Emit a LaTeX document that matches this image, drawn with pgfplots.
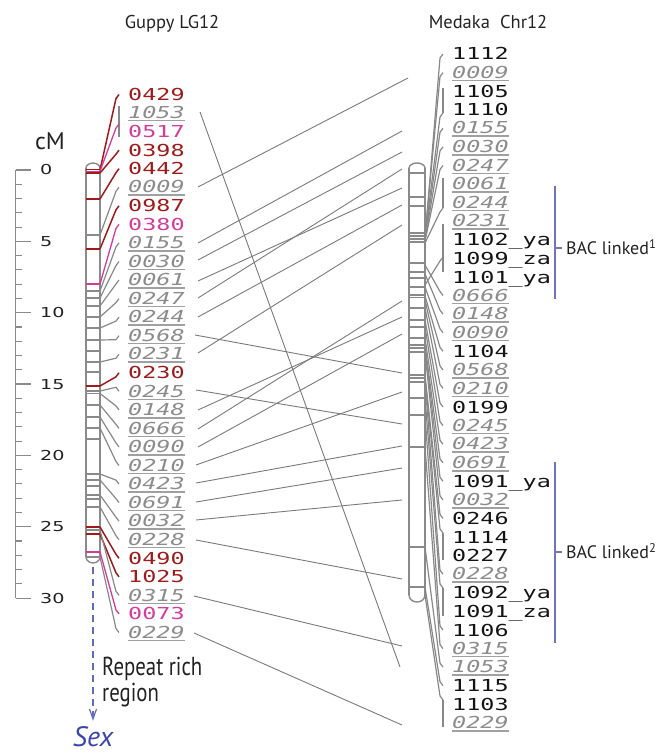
\documentclass[border=0pt]{standalone}
\usepackage{fontspec}
\setmainfont{PT Sans}
\newfontfamily\labf[FakeStretch=1.42]{DejaVu Sans Mono}
\newfontfamily\numf[FakeStretch=1.4]{DejaVu Sans}
\newfontfamily\condf[FakeStretch=0.8]{PT Sans}
\usepackage{pgfplots}
\pgfplotsset{compat=1.18}
\definecolor{lk}{HTML}{7A7A7A}
\definecolor{cg}{HTML}{888888}
\definecolor{chrc}{HTML}{8A8A8A}
\definecolor{dred}{HTML}{9E1B1B}
\definecolor{mag}{HTML}{D23C9B}
\definecolor{gtext}{HTML}{8C8C8C}
\definecolor{ulc}{HTML}{A0A0A0}
\definecolor{bacblue}{HTML}{7272C2}
\definecolor{sexblue}{HTML}{3A46A8}
\definecolor{txt}{HTML}{222222}

\tikzset{
  lab/.style={anchor=base west, inner sep=0pt, font=\labf\fontsize{16.5bp}{18bp}\selectfont},
  lnkline/.style={color=lk, line width=0.9bp},
  cgry/.style={color=cg, line width=1.2bp},
  cred/.style={color=dred, line width=1.5bp},
  cmag/.style={color=mag, line width=1.3bp},
  chr/.style={color=chrc, line width=1.4bp},
  bnd/.style={color=chrc, line width=1.1bp},
  rnum/.style={anchor=base west, inner sep=0pt, font=\numf\fontsize{13.7bp}{15bp}\selectfont, text=txt},
}

\newcommand{\gl}[1]{\setbox0\hbox{\color{gtext}\itshape#1}\rlap{\raisebox{-3bp}{\color{ulc}\rule{\wd0}{1.5bp}}}\box0}
\newcommand{\rl}[1]{\textcolor{dred}{#1}}
\newcommand{\ml}[1]{\textcolor{mag}{#1}}
\newcommand{\kl}[1]{\textcolor{black!92}{#1}}

% connector from left chromosome band (#2) to label (#3)
\newcommand{\lcon}[3]{%
  \pgfmathsetmacro\ya{#3+4*sign(#2-#3)}%
  \addplot[#1] coordinates {(100,#2) (116,\ya) (119,#3)};}
% connector from right chromosome band (#1) to label (#2)
\newcommand{\rcon}[2]{%
  \pgfmathsetmacro\ya{#2+4*sign(#1-#2)}%
  \addplot[cgry] coordinates {(425,#1) (440,\ya) (443,#2)};}
\newcommand{\lnk}[4]{\addplot[lnkline] coordinates {(#1,#2) (#3,#4)};}
\newcommand{\band}[4]{\addplot[#1] coordinates {(#2,#4) (#3,#4)};}

\begin{document}
\begin{tikzpicture}
\begin{axis}[
  width=652bp, height=753bp, scale only axis,
  xmin=0, xmax=652, ymin=0, ymax=753, y dir=reverse,
  hide axis, clip=false,
]
\addplot[draw=none] coordinates {(0,0) (652,753)};

% titles
\node[anchor=base, font=\fontsize{18.5bp}{20bp}\selectfont, text=txt] at (172,29) {Guppy LG12};
\node[anchor=base, font=\fontsize{18.5bp}{20bp}\selectfont, text=txt] at (488,29) {Medaka\hspace{0.55em}Chr12};

% cM ruler
\node[anchor=base, font=\fontsize{24bp}{26bp}\selectfont, text=txt] at (50,150) {cM};
\addplot[chr, line width=1.2bp] coordinates {(15.5,170) (15.5,598.1)};
\addplot[chr, line width=1.2bp, unbounded coords=jump] coordinates {
 (15.5,170) (31,170) (nan,nan) (15.5,241.35) (31,241.35) (nan,nan)
 (15.5,312.7) (31,312.7) (nan,nan) (15.5,384.05) (31,384.05) (nan,nan)
 (15.5,455.4) (31,455.4) (nan,nan) (15.5,526.75) (31,526.75) (nan,nan)
 (15.5,598.1) (31,598.1)};
\addplot[chr, line width=1.1bp, unbounded coords=jump] coordinates {
 (15.5,184.27) (22,184.27) (nan,nan) (15.5,198.54) (22,198.54) (nan,nan)
 (15.5,212.81) (22,212.81) (nan,nan) (15.5,227.08) (22,227.08) (nan,nan)
 (15.5,255.62) (22,255.62) (nan,nan) (15.5,269.89) (22,269.89) (nan,nan)
 (15.5,284.16) (22,284.16) (nan,nan) (15.5,298.43) (22,298.43) (nan,nan)
 (15.5,326.97) (22,326.97) (nan,nan) (15.5,341.24) (22,341.24) (nan,nan)
 (15.5,355.51) (22,355.51) (nan,nan) (15.5,369.78) (22,369.78) (nan,nan)
 (15.5,398.32) (22,398.32) (nan,nan) (15.5,412.59) (22,412.59) (nan,nan)
 (15.5,426.86) (22,426.86) (nan,nan) (15.5,441.13) (22,441.13) (nan,nan)
 (15.5,469.67) (22,469.67) (nan,nan) (15.5,483.94) (22,483.94) (nan,nan)
 (15.5,498.21) (22,498.21) (nan,nan) (15.5,512.48) (22,512.48) (nan,nan)
 (15.5,541.02) (22,541.02) (nan,nan) (15.5,555.29) (22,555.29) (nan,nan)
 (15.5,569.56) (22,569.56) (nan,nan) (15.5,583.83) (22,583.83)};
\node[rnum] at (40,175) {0};
\node[rnum] at (40,246.35) {5};
\node[rnum] at (40,317.7) {10};
\node[rnum] at (40,389.05) {15};
\node[rnum] at (40,460.4) {20};
\node[rnum] at (40,531.75) {25};
\node[rnum] at (40,603.1) {30};

% left chromosome outline
\addplot[chr, smooth] coordinates {(86,168) (86.94,165.5) (89.5,163.67) (93,163) (96.5,163.67) (99.06,165.5) (100,168)};
\addplot[chr, smooth] coordinates {(86,557) (86.94,560) (89.5,562.2) (93,563) (96.5,562.2) (99.06,560) (100,557)};
\addplot[chr] coordinates {(86,168) (86,557)};
\addplot[chr] coordinates {(100,168) (100,557)};
% left bands
\band{bnd}{86}{100}{235} \band{bnd}{86}{100}{291} \band{bnd}{86}{100}{298}
\band{bnd}{86}{100}{306} \band{bnd}{86}{100}{317} \band{bnd}{86}{100}{328}
\band{bnd}{86}{100}{340} \band{bnd}{86}{100}{351} \band{bnd}{86}{100}{362}
\band{bnd}{86}{100}{372} \band{bnd}{86}{100}{391} \band{bnd}{86}{100}{393.5}
\band{bnd}{86}{100}{405} \band{bnd}{86}{100}{417} \band{bnd}{86}{100}{428}
\band{bnd}{86}{100}{439} \band{bnd}{86}{100}{474} \band{bnd}{86}{100}{480}
\band{bnd}{86}{100}{486} \band{bnd}{86}{100}{495} \band{bnd}{86}{100}{499}
\band{bnd}{86}{100}{507} \band{bnd}{86}{100}{530} \band{bnd}{86}{100}{557}
\band{cred}{86}{100}{169.5} \band{cmag}{86}{100}{171.3} \band{cred}{86}{100}{173}
\band{cred}{86}{100}{199} \band{cred}{86}{100}{249} \band{cmag}{86}{100}{284}
\band{cred}{86}{100}{386} \band{cred}{86}{100}{527} \band{cred}{86}{100}{534}
\band{cmag}{86}{100}{552}

% left connectors
\addplot[cgry] coordinates {(119,106) (119,137)};
\lcon{cred}{170}{94.5}
\lcon{cmag}{171.3}{124}
\lcon{cred}{173}{150.2}
\lcon{cred}{199}{168.7}
\lcon{cgry}{235}{187.3}
\lcon{cred}{249}{205.8}
\lcon{cmag}{284}{224.4}
\lcon{cgry}{291}{242.9}
\lcon{cgry}{298}{261.5}
\lcon{cgry}{306}{280}
\lcon{cgry}{317}{298.6}
\lcon{cgry}{328}{317.1}
\lcon{cgry}{340}{335.7}
\lcon{cgry}{362}{354.2}
\lcon{cred}{386}{372.8}
\lcon{cgry}{391}{391.3}
\lcon{cgry}{393.5}{409.9}
\lcon{cgry}{405}{428.4}
\lcon{cgry}{417}{447}
\lcon{cgry}{428}{465.5}
\lcon{cgry}{474}{484.1}
\lcon{cgry}{480}{502.6}
\lcon{cgry}{495}{521.2}
\lcon{cgry}{507}{539.7}
\lcon{cred}{527}{558.3}
\lcon{cred}{534}{576.8}
\lcon{cgry}{530}{595.4}
\lcon{cmag}{552}{613.9}
\lcon{cgry}{557}{632.5}

% left labels
\node[lab] at (128,100.5) {\rl{0429}};
\node[lab] at (128,118.5) {\gl{1053}};
\node[lab] at (128,137.6) {\ml{0517}};
\node[lab] at (128,156.2) {\rl{0398}};
\node[lab] at (128,174.7) {\rl{0442}};
\node[lab] at (128,193) {\gl{0009}};
\node[lab] at (128,211.8) {\rl{0987}};
\node[lab] at (128,230.4) {\ml{0380}};
\node[lab] at (128,248.6) {\gl{0155}};
\node[lab] at (128,267.2) {\gl{0030}};
\node[lab] at (128,285.7) {\gl{0061}};
\node[lab] at (128,304.3) {\gl{0247}};
\node[lab] at (128,322.8) {\gl{0244}};
\node[lab] at (128,341.4) {\gl{0568}};
\node[lab] at (128,359.9) {\gl{0231}};
\node[lab] at (128,378.8) {\rl{0230}};
\node[lab] at (128,397) {\gl{0245}};
\node[lab] at (128,415.6) {\gl{0148}};
\node[lab] at (128,434.1) {\gl{0666}};
\node[lab] at (128,452.7) {\gl{0090}};
\node[lab] at (128,471.2) {\gl{0210}};
\node[lab] at (128,489.8) {\gl{0423}};
\node[lab] at (128,508.3) {\gl{0691}};
\node[lab] at (128,526.9) {\gl{0032}};
\node[lab] at (128,545.4) {\gl{0228}};
\node[lab] at (128,564.3) {\rl{0490}};
\node[lab] at (128,582.8) {\rl{1025}};
\node[lab] at (128,601.1) {\gl{0315}};
\node[lab] at (128,619.9) {\ml{0073}};
\node[lab] at (128,638.2) {\gl{0229}};

% repeat rich region and sex
\addplot[color=sexblue!80, line width=1.2bp, dash pattern=on 7bp off 5bp] coordinates {(93,567) (93,716)};
\addplot[color=sexblue!80, line width=1.2bp] coordinates {(89.5,709) (93,719) (96.5,709)};
\node[anchor=base west, inner sep=0pt, font=\condf\fontsize{26bp}{28bp}\selectfont, text=txt] at (102,675) {Repeat rich};
\node[anchor=base west, inner sep=0pt, font=\condf\fontsize{26bp}{28bp}\selectfont, text=txt] at (102,701) {region};
\node[anchor=base, inner sep=0pt, font=\itshape\fontsize{28bp}{30bp}\selectfont, text=sexblue] at (93,746) {Sex};

% homology links
\lnk{200}{112}{400}{667}
\lnk{198}{187}{408}{78}
\lnk{198}{243}{402}{131}
\lnk{198}{260}{402}{152}
\lnk{198}{281}{402}{188}
\lnk{198}{298}{402}{169}
\lnk{198}{317}{402}{205}
\lnk{195}{335}{402}{373}
\lnk{198}{353}{402}{225}
\lnk{196}{390}{402}{424}
\lnk{198}{410}{402}{317}
\lnk{198}{429}{402}{301}
\lnk{198}{447}{402}{334}
\lnk{196}{465}{402}{392}
\lnk{196}{483}{402}{446}
\lnk{196}{502}{402}{468}
\lnk{196}{520}{402}{500}
\lnk{196}{540}{402}{579}
\lnk{194}{596}{402}{646}
\lnk{194}{633}{402}{725}

% right chromosome outline
\addplot[chr, smooth] coordinates {(409,168) (410.07,165.5) (413,163.67) (417,163) (421,163.67) (423.93,165.5) (425,168)};
\addplot[chr, smooth] coordinates {(409,595) (410.07,598.5) (413,601.06) (417,602) (421,601.06) (423.93,598.5) (425,595)};
\addplot[chr] coordinates {(409,168) (409,595)};
\addplot[chr] coordinates {(425,168) (425,595)};
% right bands
\band{bnd}{409}{425}{173} \band{bnd}{409}{425}{197} \band{bnd}{409}{425}{206}
\band{bnd}{409}{425}{233} \band{bnd}{409}{425}{236} \band{bnd}{409}{425}{239}
\band{bnd}{409}{425}{242} \band{bnd}{409}{425}{263} \band{bnd}{409}{425}{272}
\band{bnd}{409}{425}{278} \band{bnd}{409}{425}{287} \band{bnd}{409}{425}{295}
\band{bnd}{409}{425}{297.5} \band{bnd}{409}{425}{308} \band{bnd}{409}{425}{320}
\band{bnd}{409}{425}{327} \band{bnd}{409}{425}{338} \band{bnd}{409}{425}{345}
\band{bnd}{409}{425}{348} \band{bnd}{409}{425}{352} \band{bnd}{409}{425}{375}
\band{bnd}{409}{425}{378} \band{bnd}{409}{425}{382} \band{bnd}{409}{425}{398}
\band{bnd}{409}{425}{415} \band{bnd}{409}{425}{447} \band{bnd}{409}{425}{547}
\band{bnd}{409}{425}{587}

% right connectors
\rcon{238}{54}
\rcon{236}{72.6}
\addplot[cgry] coordinates {(443,88) (443,113)};
\rcon{236}{113}
\rcon{239}{128.3}
\rcon{240}{146.9}
\rcon{241}{165.5}
\addplot[cgry] coordinates {(443,178) (443,208)};
\rcon{243}{208}
\addplot[cgry] coordinates {(443,224) (443,272)};
\rcon{285}{257}
\rcon{265}{295.5}
\rcon{274}{314.1}
\rcon{287}{332.7}
\rcon{296}{351.3}
\rcon{300}{369.9}
\rcon{308}{388.4}
\rcon{320}{407}
\rcon{327}{425.6}
\rcon{338}{444.2}
\rcon{345}{462.8}
\rcon{348}{481.3}
\rcon{352}{499.9}
\rcon{375}{518.5}
\addplot[cgry] coordinates {(443,533) (443,560)};
\rcon{378}{533}
\rcon{382}{574.2}
\addplot[cgry] coordinates {(443,588) (443,616)};
\rcon{398}{588}
\rcon{415}{630}
\rcon{447}{648.6}
\rcon{547}{667.1}
\rcon{587}{685.7}
\addplot[cgry] coordinates {(443,700) (443,727)};
\rcon{595}{700}

% right labels
\node[lab] at (452,60) {\kl{1112}};
\node[lab] at (452,78.3) {\gl{0009}};
\node[lab] at (452,97.2) {\kl{1105}};
\node[lab] at (452,115.7) {\kl{1110}};
\node[lab] at (452,134) {\gl{0155}};
\node[lab] at (452,152.6) {\gl{0030}};
\node[lab] at (452,171.2) {\gl{0247}};
\node[lab] at (452,189.8) {\gl{0061}};
\node[lab] at (452,208.3) {\gl{0244}};
\node[lab] at (452,226.9) {\gl{0231}};
\node[lab] at (452,245.8) {\kl{1102\_ya}};
\node[lab] at (452,264.4) {\kl{1099\_za}};
\node[lab] at (452,283) {\kl{1101\_ya}};
\node[lab] at (452,301.2) {\gl{0666}};
\node[lab] at (452,319.8) {\gl{0148}};
\node[lab] at (452,338.4) {\gl{0090}};
\node[lab] at (452,357.3) {\kl{1104}};
\node[lab] at (452,375.6) {\gl{0568}};
\node[lab] at (452,394.1) {\gl{0210}};
\node[lab] at (452,413) {\kl{0199}};
\node[lab] at (452,431.3) {\gl{0245}};
\node[lab] at (452,449.9) {\gl{0423}};
\node[lab] at (452,468.5) {\gl{0691}};
\node[lab] at (452,487.3) {\kl{1091\_ya}};
\node[lab] at (452,505.6) {\gl{0032}};
\node[lab] at (452,524.5) {\kl{0246}};
\node[lab] at (452,543.1) {\kl{1114}};
\node[lab] at (452,561.7) {\kl{0227}};
\node[lab] at (452,579.9) {\gl{0228}};
\node[lab] at (452,598.8) {\kl{1092\_ya}};
\node[lab] at (452,617.4) {\kl{1091\_za}};
\node[lab] at (452,636) {\kl{1106}};
\node[lab] at (452,654.3) {\gl{0315}};
\node[lab] at (452,672.8) {\gl{1053}};
\node[lab] at (452,691.7) {\kl{1115}};
\node[lab] at (452,710.3) {\kl{1103}};
\node[lab] at (452,728.6) {\gl{0229}};

% BAC brackets
\addplot[color=bacblue, line width=1.1bp] coordinates {(555,186) (555,299)};
\addplot[color=bacblue, line width=1.1bp] coordinates {(555,248) (562,248)};
\addplot[color=bacblue, line width=1.1bp] coordinates {(555,462) (555,643)};
\addplot[color=bacblue, line width=1.1bp] coordinates {(555,552) (562,552)};
\node[anchor=base west, inner sep=0pt, font=\fontsize{18bp}{20bp}\selectfont, text=txt] at (566,254.5) {BAC linked\textsuperscript{1}};
\node[anchor=base west, inner sep=0pt, font=\fontsize{18bp}{20bp}\selectfont, text=txt] at (566,558.5) {BAC linked\textsuperscript{2}};
\end{axis}
\end{tikzpicture}
\end{document}
